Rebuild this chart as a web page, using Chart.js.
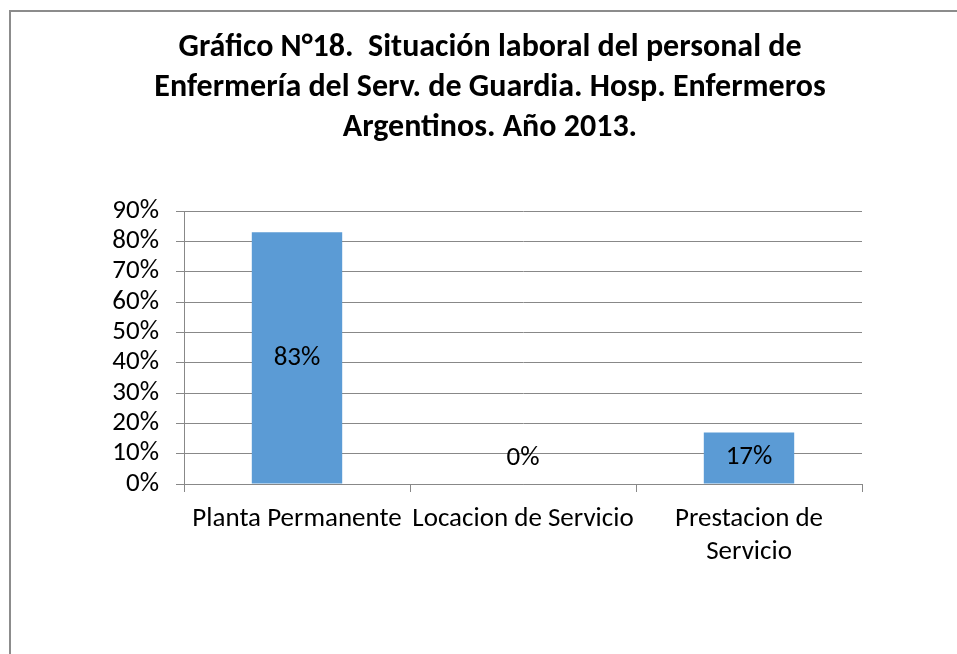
<!DOCTYPE html>
<html lang="es">
<head>
  <meta charset="UTF-8" />
  <title>Gráfico N°18</title>
  <script src="https://cdn.jsdelivr.net/npm/chart.js"></script>
  <style>
    body { margin: 0; background: #fff; overflow: hidden; }
    .wrap { position: relative; width: 957px; height: 654px; }
  </style>
</head>
<body>
  <div class="wrap"><canvas id="chart"></canvas></div>

  <script>
    const categories = ["Planta Permanente", "Locacion de Servicio", ["Prestacion de", "Servicio"]];
    const values = [83, 0, 17];
    const yTicks = [0, 10, 20, 30, 40, 50, 60, 70, 80, 90];
    const titleLines = [
      "Gráfico N°18.  Situación laboral del personal de",
      "Enfermería del Serv. de Guardia. Hosp. Enfermeros",
      "Argentinos. Año 2013."
    ];

    const FONT = "Carlito, Lato, 'Open Sans', sans-serif";
    const GRID = "#888888";

    // frame of the chart object (only left and top edges are visible) + title
    const framePlugin = {
      id: "frame",
      beforeDraw(chart) {
        const ctx = chart.ctx;
        ctx.save();
        ctx.strokeStyle = "#8c8c8c";
        ctx.lineWidth = 2;
        ctx.beginPath();
        ctx.moveTo(10, chart.height);
        ctx.lineTo(10, 11);
        ctx.lineTo(chart.width, 11);
        ctx.stroke();

        ctx.font = "bold 32px " + FONT;
        ctx.fillStyle = "#000";
        ctx.textAlign = "center";
        ctx.textBaseline = "middle";
        titleLines.forEach((line, i) => ctx.fillText(line, 490, 48 + i * 40));
        ctx.restore();
      }
    };

    // value labels in the middle of each bar
    const valueLabels = {
      id: "valueLabels",
      afterDatasetsDraw(chart) {
        const ctx = chart.ctx;
        const meta = chart.getDatasetMeta(0);
        ctx.save();
        ctx.font = "27px " + FONT;
        ctx.fillStyle = "#000";
        ctx.textAlign = "center";
        ctx.textBaseline = "middle";
        meta.data.forEach((bar, i) => {
          const mid = (bar.y + bar.base) / 2;
          const y = Math.min(mid, bar.base - 26);
          ctx.fillText(values[i] + "%", bar.x, y);
        });
        ctx.restore();
      }
    };

    new Chart(document.getElementById("chart"), {
      type: "bar",
      data: {
        labels: categories,
        datasets: [{
          data: values,
          backgroundColor: "#5b9bd5",
          barPercentage: 0.4,
          categoryPercentage: 1.0
        }]
      },
      options: {
        responsive: true,
        maintainAspectRatio: false,
        animation: false,
        layout: { padding: { left: 90, right: 95, top: 211, bottom: 0 } },
        plugins: {
          legend: { display: false },
          tooltip: { enabled: false },
          title: { display: false }
        },
        scales: {
          x: {
            afterFit(s) { s.height = 170; },
            grid: {
              offset: true,
              drawOnChartArea: false,
              drawTicks: true,
              tickLength: 8,
              color: GRID
            },
            border: { color: GRID, width: 1 },
            ticks: {
              color: "#000",
              font: { family: FONT, size: 27, lineHeight: 33 / 27 },
              maxRotation: 0,
              minRotation: 0,
              autoSkip: false,
              padding: 11
            }
          },
          y: {
            min: yTicks[0],
            max: yTicks[yTicks.length - 1],
            afterFit(s) { s.width = 94; },
            afterBuildTicks(s) { s.ticks = yTicks.map(v => ({ value: v })); },
            grid: { color: GRID, tickLength: 8, drawTicks: true },
            border: { color: GRID, width: 1 },
            ticks: {
              color: "#000",
              font: { family: FONT, size: 27 },
              padding: 17,
              autoSkip: false,
              callback: v => v + "%"
            }
          }
        }
      },
      plugins: [framePlugin, valueLabels]
    });
  </script>
</body>
</html>
